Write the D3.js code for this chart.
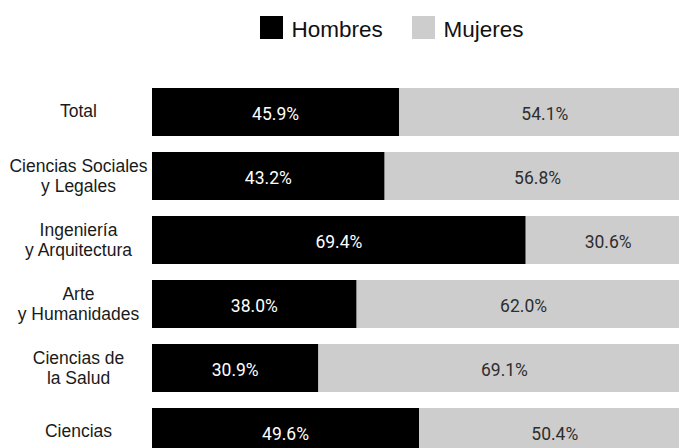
<!DOCTYPE html>
<html><head><meta charset="utf-8">
<script src="https://cdn.jsdelivr.net/npm/d3@7"></script>
<style>html,body{margin:0;padding:0;background:#fff;overflow:hidden}</style>
</head><body>
<svg id="chart" width="679" height="448"></svg>
<script>
const categories = [
  ["Total"],
  ["Ciencias Sociales", "y Legales"],
  ["Ingeniería", "y Arquitectura"],
  ["Arte", "y Humanidades"],
  ["Ciencias de", "la Salud"],
  ["Ciencias"]
];
const hombres = [45.9, 43.2, 69.4, 38.0, 30.9, 49.6];
const mujeres = [54.1, 56.8, 30.6, 62.0, 69.1, 50.4];
const seriesNames = ["Hombres", "Mujeres"];
const seriesColors = ["#000000", "#cdcdcd"];
const labelColors = ["#ffffff", "#2e2e2e"];

const svg = d3.select("#chart");
const ids = d3.range(categories.length);
const y = d3.scaleBand().domain(ids).range([80, 464]).paddingInner(0.25).paddingOuter(0.125);
const x = d3.scaleLinear().domain([0, 100]).range([152, 690.5]);

const rows = ids.map(i => ({i, vals: [hombres[i], mujeres[i]]}));
const stack = d3.stack().keys([0, 1]).value((d, k) => d.vals[k]);
const stacked = stack(rows);

const g = svg.append("g");
stacked.forEach((layer, k) => {
  g.selectAll(".seg" + k).data(layer).enter().append("rect")
    .attr("x", d => x(d[0]))
    .attr("y", d => y(d.data.i))
    .attr("width", d => x(d[1]) - x(d[0]))
    .attr("height", y.bandwidth())
    .attr("fill", seriesColors[k]);
  g.selectAll(".lab" + k).data(layer).enter().append("text")
    .attr("x", d => (x(d[0]) + x(d[1])) / 2)
    .attr("y", d => y(d.data.i) + y.bandwidth() / 2 + 7.5)
    .attr("text-anchor", "middle")
    .attr("font-family", "Roboto, sans-serif")
    .attr("font-size", 17.5)
    .attr("fill", labelColors[k])
    .text(d => d.data.vals[k].toFixed(1) + "%");
});

// category labels
ids.forEach(i => {
  const lines = categories[i];
  const c = y(i) + y.bandwidth() / 2;
  const t = svg.append("text")
    .attr("text-anchor", "middle")
    .attr("font-family", "'Liberation Sans', Arial, sans-serif")
    .attr("font-size", 17.5)
    .attr("fill", "#1a1a1a");
  lines.forEach((ln, j) => {
    const base = lines.length === 1 ? c + 5 : c - 4.5 + j * 20;
    t.append("tspan").attr("x", 78.5).attr("y", base).text(ln);
  });
});

// legend
const legX = [260, 412];
seriesNames.forEach((n, k) => {
  svg.append("rect").attr("x", legX[k]).attr("y", 16).attr("width", 23).attr("height", 23)
    .attr("fill", seriesColors[k]);
  svg.append("text").attr("x", legX[k] + 31.5).attr("y", 36.5)
    .attr("font-family", "'Liberation Sans', Arial, sans-serif")
    .attr("font-size", 22.5).attr("fill", "#111").text(n);
});
</script>
</body></html>
